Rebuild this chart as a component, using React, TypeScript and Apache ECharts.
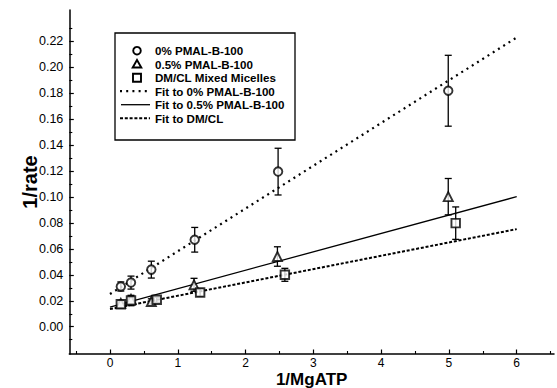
import React, { useEffect, useRef } from "react";
import * as echarts from "echarts";

// 0% PMAL-B-100 (circles)
const circleX = [0.16, 0.31, 0.61, 1.25, 2.48, 4.99];
const circleY = [0.031, 0.034, 0.044, 0.067, 0.1195, 0.1818];
const circleErr = [0.0035, 0.005, 0.0065, 0.0095, 0.018, 0.0273];

// 0.5% PMAL-B-100 (triangles)
const triX = [0.16, 0.31, 0.61, 1.24, 2.47, 4.99];
const triY = [0.018, 0.021, 0.0195, 0.0323, 0.0541, 0.1002];
const triErr = [0.002, 0.002, 0.002, 0.005, 0.0075, 0.014];

// DM/CL Mixed Micelles (squares)
const sqX = [0.16, 0.31, 0.69, 1.33, 2.58, 5.1];
const sqY = [0.0173, 0.0202, 0.0208, 0.0264, 0.04, 0.0798];
const sqErr = [0.003, 0.004, 0.002, 0.003, 0.005, 0.0125];

// Fit lines (end points)
const fitX = [0, 6];
const fit0 = [0.0252, 0.2228];
const fit05 = [0.0152, 0.1002];
const fitDM = [0.0136, 0.0752];

// Tick values
const xMajor = [0, 1, 2, 3, 4, 5, 6];
const xMinor = [-0.5, 0.5, 1.5, 2.5, 3.5, 4.5, 5.5, 6.5];
const yMajor = [0, 0.02, 0.04, 0.06, 0.08, 0.1, 0.12, 0.14, 0.16, 0.18, 0.2, 0.22];
const yMinor = [-0.01, 0.01, 0.03, 0.05, 0.07, 0.09, 0.11, 0.13, 0.15, 0.17, 0.19, 0.21, 0.23];

const names = [
  "0% PMAL-B-100",
  "0.5% PMAL-B-100",
  "DM/CL Mixed Micelles",
  "Fit to 0% PMAL-B-100",
  "Fit to 0.5% PMAL-B-100",
  "Fit to DM/CL",
];

const FONT = "'Liberation Sans', Arial, Helvetica, sans-serif";
const X_MIN = -0.6;
const X_MAX = 6.55;
const Y_MIN = -0.021;
const Y_MAX = 0.244;

const DOT: number[] = [2, 4.2];
const DASH: number[] = [3, 1.8];

function pts(xs: number[], ys: number[]) {
  return xs.map((x, i) => [x, ys[i]]);
}
function errs(xs: number[], ys: number[], es: number[]) {
  return xs.map((x, i) => [x, ys[i] - es[i], ys[i] + es[i]]);
}

function errorSeries(data: number[][]) {
  return {
    type: "custom",
    silent: true,
    z: 3,
    encode: { x: 0, y: [1, 2] },
    data,
    renderItem: (params: any, api: any) => {
      const x = api.value(0);
      const lo = api.coord([x, api.value(1)]);
      const hi = api.coord([x, api.value(2)]);
      const hw = 3.5;
      const st = { stroke: "#000", lineWidth: 1.3 };
      return {
        type: "group",
        children: [
          { type: "line", shape: { x1: lo[0], y1: lo[1], x2: hi[0], y2: hi[1] }, style: st },
          { type: "line", shape: { x1: lo[0] - hw, y1: lo[1], x2: lo[0] + hw, y2: lo[1] }, style: st },
          { type: "line", shape: { x1: hi[0] - hw, y1: hi[1], x2: hi[0] + hw, y2: hi[1] }, style: st },
        ],
      };
    },
  };
}

function legendGraphic() {
  const bx = 115, by = 33, bw = 180, bh = 107;
  const rowY0 = 50.7, rowStep = 13.5;
  const symX = 137, lineX1 = 120, lineX2 = 149, textX = 155;
  const sym = { fill: "#fff", stroke: "#000", lineWidth: 1.9 };
  const children: any[] = [
    { type: "rect", shape: { x: bx, y: by, width: bw, height: bh }, style: { fill: "#fff", stroke: "#000", lineWidth: 1.3 } },
  ];
  const ys = names.map((_, i) => rowY0 + i * rowStep);
  children.push({ type: "circle", shape: { cx: symX, cy: ys[0], r: 3.8 }, style: sym });
  children.push({
    type: "polygon",
    shape: { points: [[symX, ys[1] - 4.2], [symX + 4.3, ys[1] + 3.3], [symX - 4.3, ys[1] + 3.3]] },
    style: sym,
  });
  children.push({ type: "rect", shape: { x: symX - 4, y: ys[2] - 4, width: 8, height: 8 }, style: sym });
  children.push({ type: "line", shape: { x1: lineX1, y1: ys[3], x2: lineX2, y2: ys[3] }, style: { stroke: "#000", lineWidth: 2.2, lineDash: DOT } });
  children.push({ type: "line", shape: { x1: lineX1 + 1, y1: ys[4], x2: lineX2 + 1, y2: ys[4] }, style: { stroke: "#000", lineWidth: 1.3 } });
  children.push({ type: "line", shape: { x1: lineX1, y1: ys[5], x2: lineX2 + 1, y2: ys[5] }, style: { stroke: "#000", lineWidth: 2, lineDash: DASH } });
  names.forEach((n, i) => {
    children.push({
      type: "text",
      x: textX,
      y: ys[i],
      style: {
        text: n,
        fill: "#000",
        font: `bold 11.6px ${FONT}`,
        textVerticalAlign: "middle",
        verticalAlign: "middle",
        align: "left",
      },
    });
  });
  return { type: "group", z: 100, children };
}

export default function App() {
  const ref = useRef<HTMLDivElement>(null);
  useEffect(() => {
    const chart = echarts.init(ref.current!, null, { renderer: "svg" });
    const axisBase = {
      type: "value",
      splitLine: { show: false },
      nameMoveOverlap: false,
    };
    const option: any = {
      animation: false,
      backgroundColor: "#fff",
      textStyle: { fontFamily: FONT },
      grid: { left: 69.3, right: 3, top: 10, bottom: 34, containLabel: false, outerBoundsMode: "none" },
      graphic: [legendGraphic()],
      xAxis: [
        {
          ...axisBase,
          min: X_MIN,
          max: X_MAX,
          position: "bottom",
          axisLine: { show: true, onZero: false, lineStyle: { color: "#000", width: 1.5 } },
          axisTick: { show: true, inside: true, length: 4.5, customValues: xMajor, lineStyle: { color: "#000", width: 1.2 } },
          axisLabel: { customValues: xMajor, color: "#000", fontSize: 12, lineHeight: 12, fontFamily: FONT, margin: 3, formatter: (v: number) => String(v) },
          name: "1/MgATP",
          nameLocation: "middle",
          nameGap: 16.5,
          nameTextStyle: { fontSize: 17, lineHeight: 17, fontWeight: "bold", color: "#000", fontFamily: FONT },
        },
        {
          ...axisBase,
          min: X_MIN,
          max: X_MAX,
          position: "bottom",
          axisLine: { show: false, onZero: false },
          axisTick: { show: true, inside: true, length: 3, customValues: xMinor, lineStyle: { color: "#000", width: 1.1 } },
          axisLabel: { show: false },
        },
      ],
      yAxis: [
        {
          ...axisBase,
          min: Y_MIN,
          max: Y_MAX,
          position: "left",
          axisLine: { show: true, onZero: false, lineStyle: { color: "#000", width: 1.5 } },
          axisTick: { show: true, inside: true, length: 4.5, customValues: yMajor, lineStyle: { color: "#000", width: 1.2 } },
          axisLabel: { customValues: yMajor, color: "#000", fontSize: 12.5, fontFamily: FONT, margin: 6, formatter: (v: number) => v.toFixed(2) },
          name: "1/rate",
          nameLocation: "middle",
          nameRotate: 90,
          nameGap: 29,
          nameTextStyle: { fontSize: 20, fontWeight: "bold", color: "#000", fontFamily: FONT },
        },
        {
          ...axisBase,
          min: Y_MIN,
          max: Y_MAX,
          position: "left",
          axisLine: { show: false, onZero: false },
          axisTick: { show: true, inside: true, length: 3, customValues: yMinor, lineStyle: { color: "#000", width: 1.1 } },
          axisLabel: { show: false },
        },
      ],
      series: [
        {
          name: names[3],
          type: "line",
          data: pts(fitX, fit0),
          symbol: "none",
          z: 2,
          lineStyle: { color: "#000", width: 2.2, type: DOT },
        },
        {
          name: names[4],
          type: "line",
          data: pts(fitX, fit05),
          symbol: "none",
          z: 2,
          lineStyle: { color: "#000", width: 1.3, type: "solid" },
        },
        {
          name: names[5],
          type: "line",
          data: pts(fitX, fitDM),
          symbol: "none",
          z: 2,
          lineStyle: { color: "#000", width: 2, type: DASH },
        },
        errorSeries(errs(circleX, circleY, circleErr)),
        errorSeries(errs(triX, triY, triErr)),
        errorSeries(errs(sqX, sqY, sqErr)),
        {
          name: names[0],
          type: "scatter",
          data: pts(circleX, circleY),
          symbol: "circle",
          symbolSize: 8.5,
          z: 5,
          itemStyle: { color: "#fff", borderColor: "#000", borderWidth: 1.9 },
        },
        {
          name: names[1],
          type: "scatter",
          data: pts(triX, triY),
          symbol: "triangle",
          symbolSize: 9,
          z: 5,
          itemStyle: { color: "#fff", borderColor: "#000", borderWidth: 1.9 },
        },
        {
          name: names[2],
          type: "scatter",
          data: pts(sqX, sqY),
          symbol: "rect",
          symbolSize: 8.5,
          z: 6,
          itemStyle: { color: "#fff", borderColor: "#000", borderWidth: 1.9 },
        },
      ],
    };
    chart.setOption(option);
    return () => chart.dispose();
  }, []);
  return (
    <div
      ref={ref}
      style={{ position: "absolute", left: 0, top: 0, width: 557, height: 388, background: "#fff" }}
    />
  );
}
